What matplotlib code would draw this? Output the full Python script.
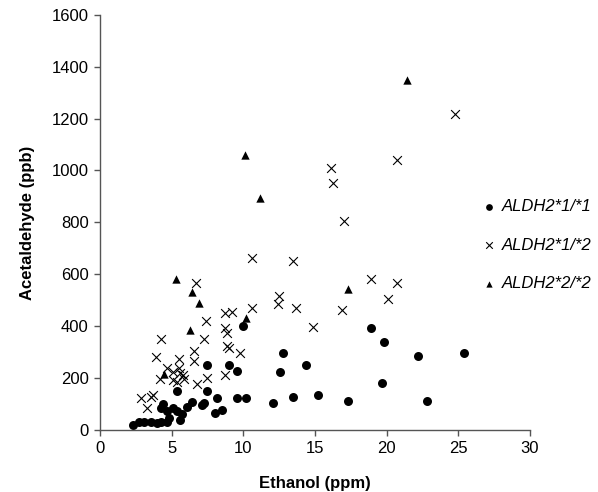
import matplotlib
matplotlib.use("Agg")
import matplotlib.pyplot as plt

plt.rcParams['font.family'] = ['Liberation Sans', 'DejaVu Sans']

# ALDH2*1/*1
eth_11 = [2.3, 2.7, 3.1, 3.6, 4.0, 4.3, 4.7, 4.8, 4.4, 4.3, 4.7, 5.1, 5.4, 5.7, 6.1, 6.4,
          5.6, 5.4, 7.1, 7.5, 9.0, 9.6, 7.5, 8.2, 7.3, 8.0, 8.5, 9.6, 10.2, 10.0, 12.1,
          12.6, 12.8, 13.5, 14.4, 15.2, 17.3, 18.9, 19.8, 19.7, 22.2, 22.8, 25.4]
ace_11 = [20, 32, 32, 30, 28, 30, 32, 45, 100, 85, 75, 85, 75, 60, 88, 108,
          40, 150, 95, 250, 250, 227, 150, 124, 104, 66, 77, 125, 125, 401, 105,
          224, 297, 127, 250, 135, 113, 393, 340, 181, 285, 113, 297]

# ALDH2*1/*2
eth_12 = [24.8, 20.7, 16.1, 16.3, 17.0, 13.5, 10.6, 12.5, 12.4, 13.7, 14.9, 16.9, 18.9,
          20.7, 20.1, 6.7, 10.6, 9.2, 8.7, 7.4, 8.7, 8.9, 4.3, 7.3, 8.9, 9.0, 6.6, 6.6,
          9.8, 3.9, 4.7, 5.5, 5.5, 5.1, 5.6, 5.8, 5.1, 4.2, 5.4, 5.9, 6.8, 7.5, 8.7,
          2.9, 3.6, 3.7, 3.3]
ace_12 = [1218, 1040, 1010, 953, 806, 651, 663, 517, 486, 470, 397, 462, 582,
          566, 505, 566, 470, 455, 451, 420, 393, 374, 351, 351, 324, 315, 305, 266,
          296, 283, 239, 273, 239, 224, 221, 212, 193, 197, 185, 197, 177, 200, 212,
          124, 127, 135, 85]

# ALDH2*2/*2
eth_22 = [21.4, 10.1, 11.2, 5.3, 6.4, 6.9, 6.3, 10.2, 4.5, 17.3]
ace_22 = [1350, 1060, 894, 583, 532, 489, 385, 432, 216, 543]

fig = plt.figure(figsize=(5.98, 4.92), dpi=100)
ax = fig.add_axes([0.167, 0.126, 0.719, 0.844])

ax.scatter(eth_11, ace_11, s=42, marker='o', color='black', linewidths=0, label='ALDH2*1/*1')
ax.scatter(eth_12, ace_12, s=40, marker='x', color='black', linewidths=0.8, label='ALDH2*1/*2')
ax.scatter(eth_22, ace_22, s=36, marker='^', color='black', linewidths=0, label='ALDH2*2/*2')

ax.set_xlim(0, 30)
ax.set_ylim(0, 1600)
ax.set_xticks(range(0, 31, 5))
ax.set_yticks(range(0, 1601, 200))
for s in ['top', 'right']:
    ax.spines[s].set_visible(False)
for s in ['left', 'bottom']:
    ax.spines[s].set_color('#555555')
    ax.spines[s].set_linewidth(1.0)
ax.tick_params(direction='out', length=4, width=1, color='#555555', labelsize=12, pad=4)

ax.set_xlabel('Ethanol (ppm)', fontsize=12, fontweight='bold', labelpad=14)
ax.set_ylabel('Acetaldehyde (ppb)', fontsize=12, fontweight='bold', labelpad=12)

leg = ax.legend(loc='upper left', bbox_to_anchor=(482 / 598, (492 - 199) / 492),
                bbox_transform=fig.transFigure, frameon=False,
                prop={'style': 'italic', 'size': 12}, labelspacing=1.42,
                handlelength=0.8, handletextpad=0.4, markerscale=0.75,
                borderpad=0, borderaxespad=0)

fig.savefig('out.png', dpi=100)
